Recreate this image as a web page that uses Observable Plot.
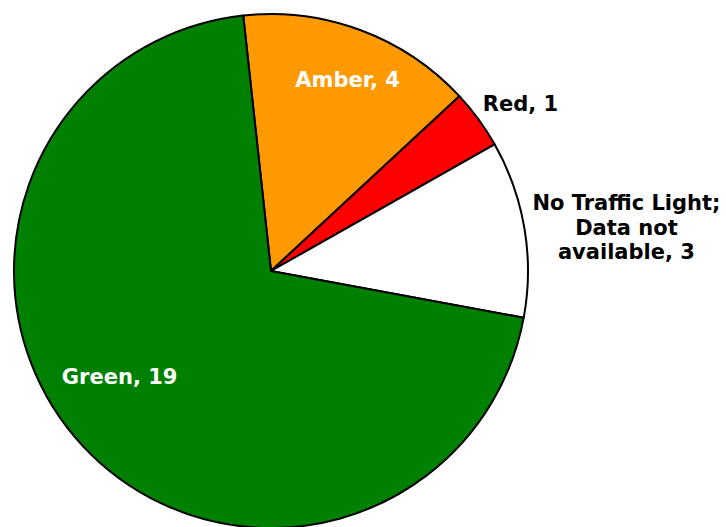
<!DOCTYPE html>
<html><head><meta charset="utf-8">
<script src="https://cdn.jsdelivr.net/npm/d3@7"></script>
<script src="https://cdn.jsdelivr.net/npm/@observablehq/plot@0.6"></script>
<style>body{margin:0;background:#fff}</style>
</head><body><div id="chart"></div>
<script>
const categories = ["Amber", "Red", "No Traffic Light; Data not available", "Green"];
const values = [4, 1, 3, 19];
const colors = ["#FF9900", "#FF0000", "#FFFFFF", "#008000"];
const labelLines = [["Amber, 4"], ["Red, 1"], ["No Traffic Light;", "Data not", "available, 3"], ["Green, 19"]];
const labelColors = ["#fff", "#000", "#000", "#fff"];

const W = 726, H = 527, cx = 271, cy = 271, R = 257;
const startAngle = -6.2 * Math.PI / 180;
const pie = d3.pie().sort(null).startAngle(startAngle).endAngle(startAngle + 2 * Math.PI);
const arcs = pie(values).map((a, i) => ({...a, cat: categories[i], color: colors[i]}));

// label anchor positions, in radius units relative to pie centre (first line)
const labelPos = [[0.296, 0.743], [0.969, 0.650], [1.381, 0.265], [-0.591, -0.412]];
const lineStep = 24.5 / R;
const texts = [];
labelLines.forEach((lines, i) => {
  const [x, y] = labelPos[i];
  lines.forEach((t, j) => texts.push({x, y: y - j * lineStep, text: t, fill: labelColors[i]}));
});

const pieMark = (index, scales) => {
  const x0 = scales.x(0), y0 = scales.y(0);
  const r = scales.x(1) - scales.x(0);
  const arcGen = d3.arc().innerRadius(0).outerRadius(r);
  const g = d3.create("svg:g").attr("transform", `translate(${x0},${y0})`);
  g.selectAll("path").data(arcs).join("path")
    .attr("d", arcGen).attr("fill", d => d.color)
    .attr("stroke", "#000").attr("stroke-width", 2).attr("stroke-linejoin", "round");
  return g.node();
};

const plot = Plot.plot({
  width: W, height: H, margin: 0,
  x: {domain: [-cx / R, (W - cx) / R], range: [0, W], axis: null},
  y: {domain: [cy / R, -(H - cy) / R], range: [0, H], axis: null},
  style: {fontFamily: "Verdana, 'DejaVu Sans', sans-serif", background: "#fff"},
  marks: [
    pieMark,
    Plot.text(texts, {x: "x", y: "y", text: "text", fill: "fill", fontSize: 21, fontWeight: "bold", textAnchor: "middle"})
  ]
});
document.getElementById("chart").appendChild(plot);
</script></body></html>
